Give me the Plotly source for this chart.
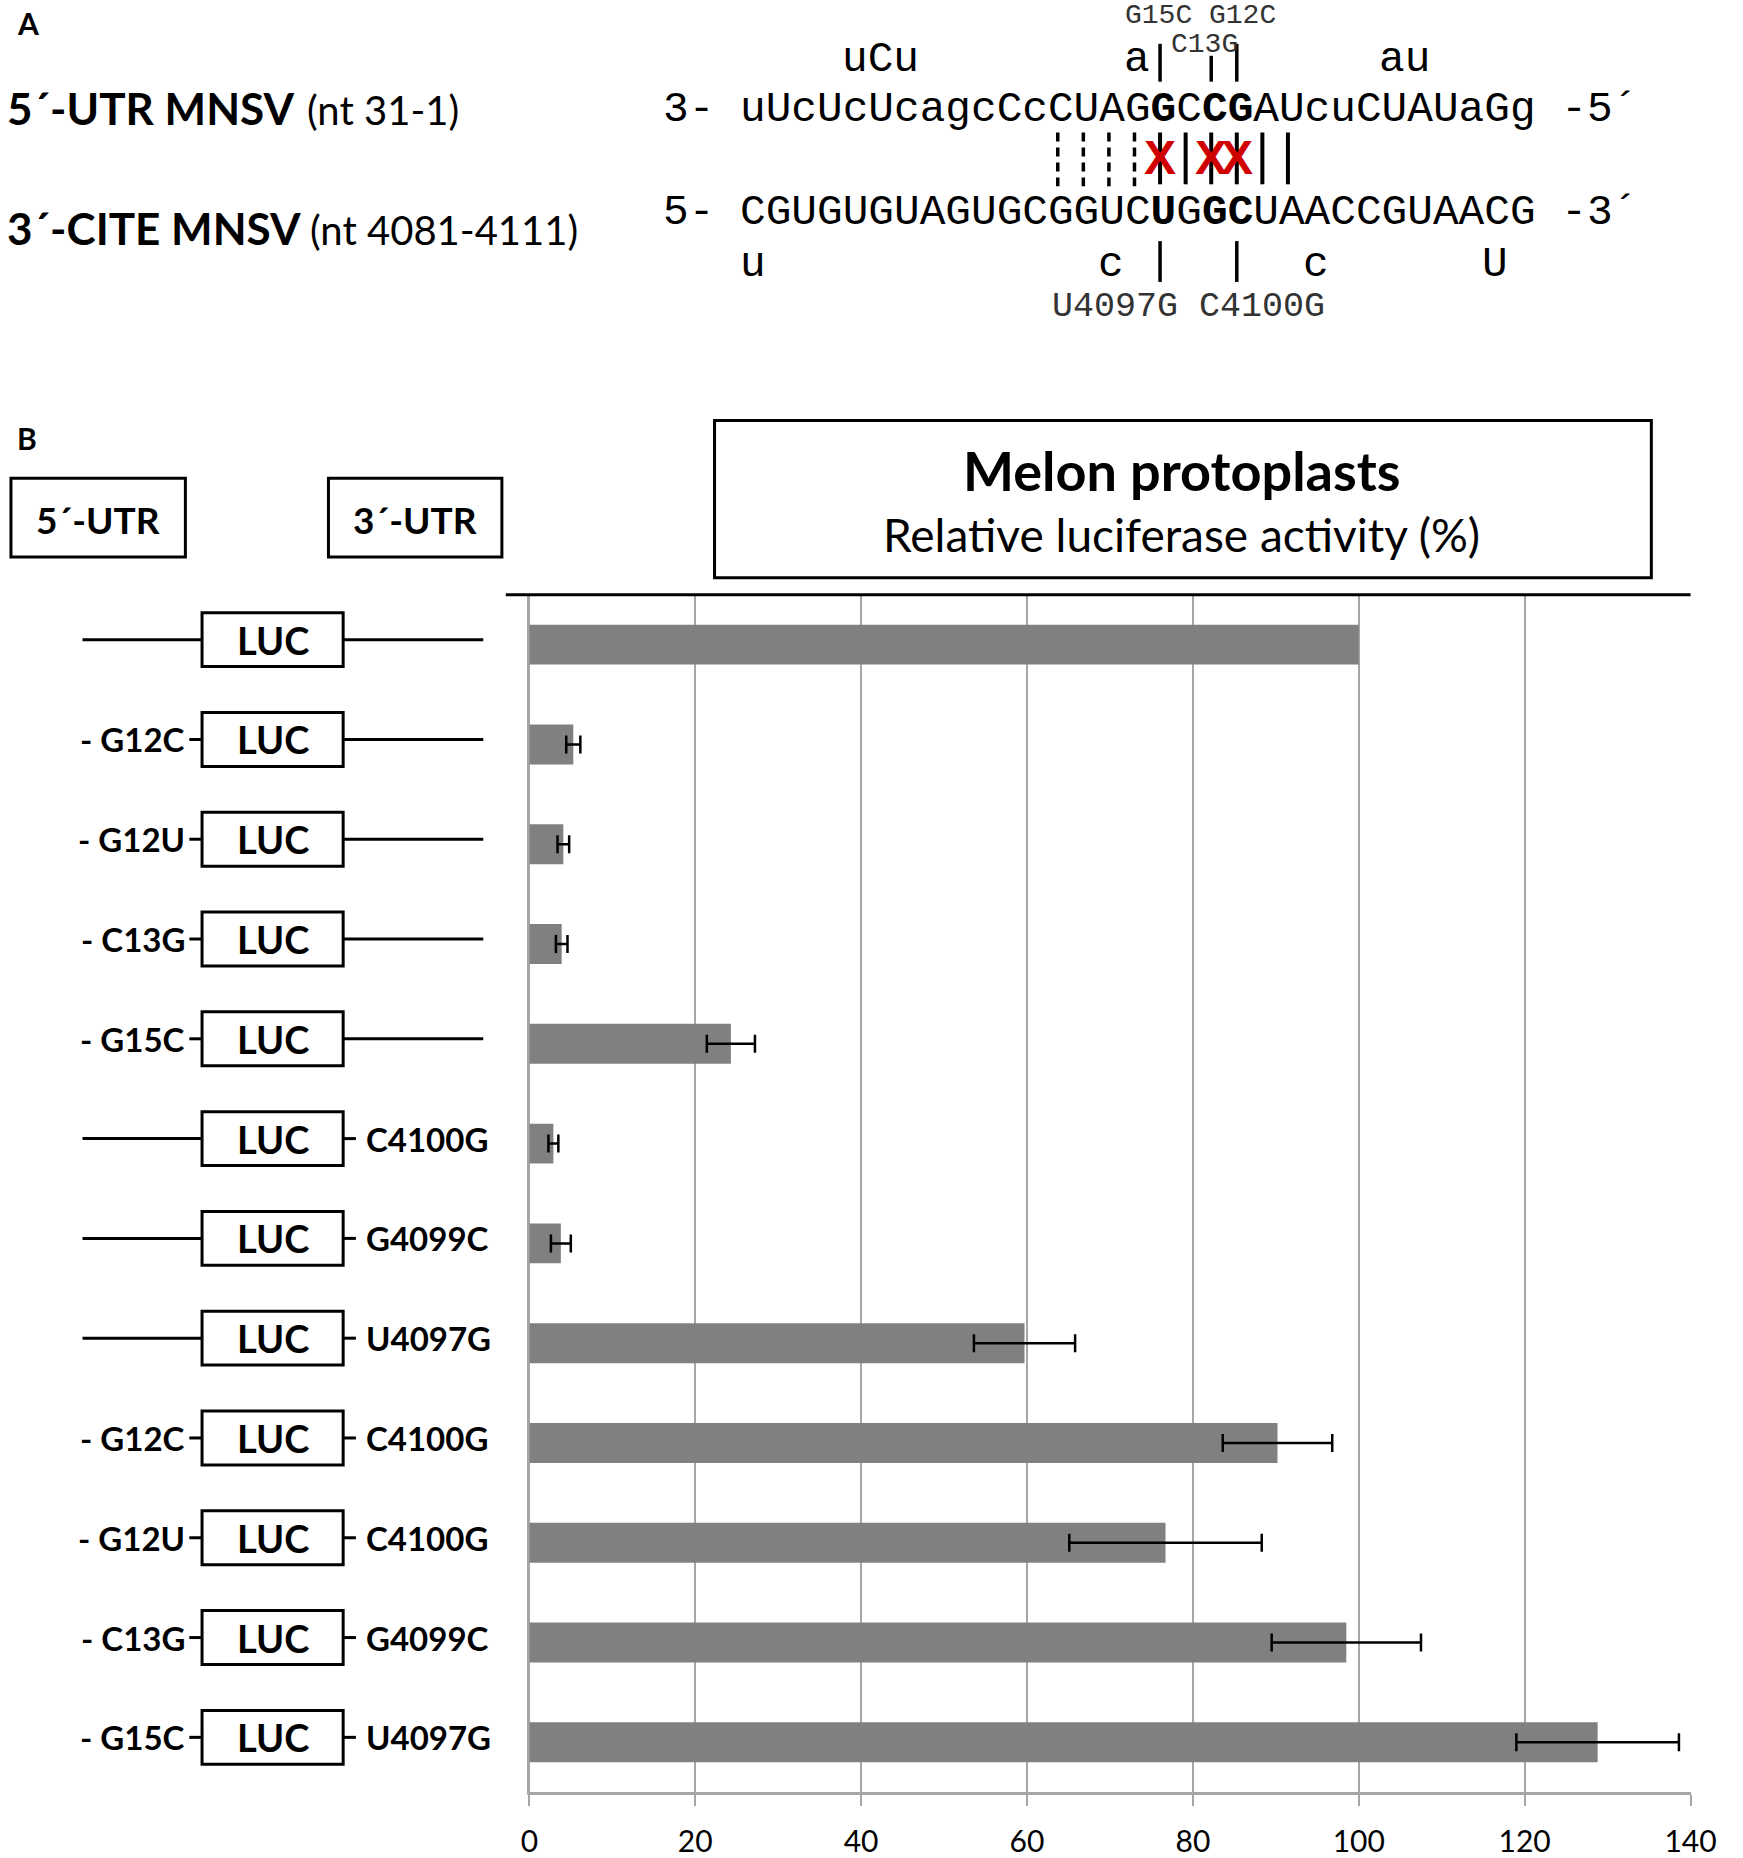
import plotly.graph_objects as go

W, H = 1743, 1858

# ---- data (panel B) ----
constructs = ["wt", "G12C", "G12U", "C13G", "G15C", "C4100G", "G4099C", "U4097G",
              "G12C/C4100G", "G12U/C4100G", "C13G/G4099C", "G15C/U4097G"]
five_mut = ["", "G12C", "G12U", "C13G", "G15C", "", "", "",
            "G12C", "G12U", "C13G", "G15C"]
three_mut = ["", "", "", "", "", "C4100G", "G4099C", "U4097G",
             "C4100G", "C4100G", "G4099C", "U4097G"]
activity = [100, 5.3, 4.1, 3.9, 24.3, 2.9, 3.8, 59.7, 90.2, 76.7, 98.5, 128.8]
sd = [None, 0.85, 0.7, 0.7, 2.9, 0.6, 1.2, 6.1, 6.6, 11.6, 9.0, 9.8]
x_ticks = [0, 20, 40, 60, 80, 100, 120, 140]

# ---- data (panel A) ----
utr5_seq = "uUcUcUcagcCcCUAGGCCGAUcuCUAUaGg"
cite3_seq = "CGUGUGUAGUGCGGUCUGGCUAACCGUAACG"
bold_pos = [16, 18, 19]
utr5_bulges = [(4, "uCu"), (15, "a"), (25, "au")]
cite3_bulges = [(0, "u"), (14, "c"), (22, "c"), (29, "U")]
weak_pairs = [12, 13, 14, 15]
strong_pairs = [16, 17, 18, 19, 20, 21]
broken_pairs = [16, 18, 19]
utr5_marks = [(16, 44), (18, 56), (19, 44)]
cite3_marks = [16, 19]

SANS = "Lato"
MONO = "Courier New, Nimbus Mono PS, FreeMono, Liberation Mono"
GRID = "#A6A6A6"


def px(x):
    return x / W


def py(y):
    return 1 - y / H


fig = go.Figure()
rows = list(range(len(constructs)))
fig.add_trace(go.Bar(
    x=activity, y=rows, orientation="h", width=0.4,
    marker=dict(color="#808080", line=dict(width=0)),
    hovertext=constructs, hoverinfo="text+x",
))
err_rows = [i for i in rows if sd[i] is not None]
fig.add_trace(go.Scatter(
    x=[activity[i] for i in err_rows], y=err_rows, mode="markers",
    marker=dict(size=1, opacity=0),
    error_x=dict(type="data", array=[sd[i] for i in err_rows],
                 color="black", thickness=2.5, width=9),
    hoverinfo="skip",
))

shapes = []
ann = []

# ---------- panel A ----------
SEQ_X0 = 744
CHAR_W = 26.1
MONO_SIZE = CHAR_W / 0.61


def cx(i):
    return SEQ_X0 + CHAR_W * (i + 0.5)


def markup(seq):
    return "".join(f"<b>{c}</b>" if i in bold_pos else c for i, c in enumerate(seq))


def mono(text, x, y, size=MONO_SIZE, anchor="left", color="black"):
    ann.append(dict(text=text, x=px(x), y=py(y), xref="paper", yref="paper",
                    xanchor=anchor, yanchor="middle", showarrow=False,
                    font=dict(family=MONO, size=size, color=color)))


start = SEQ_X0 - 3 * CHAR_W
mono("3-\u00a0" + markup(utr5_seq) + "\u00a0-5\u00b4", start, 110)
mono("5-\u00a0" + markup(cite3_seq) + "\u00a0-3\u00b4", start, 213)
for i, s in utr5_bulges:
    mono(s, cx(i) - CHAR_W / 2, 60)
for i, s in cite3_bulges:
    mono(s, cx(i) - CHAR_W / 2, 265)

for i in weak_pairs:
    shapes.append(dict(type="line", xref="paper", yref="paper",
                       x0=px(cx(i)), x1=px(cx(i)), y0=py(133), y1=py(187),
                       line=dict(color="black", width=3.5, dash="9px,6px")))
for i in strong_pairs:
    shapes.append(dict(type="line", xref="paper", yref="paper",
                       x0=px(cx(i)), x1=px(cx(i)), y0=py(133), y1=py(185),
                       line=dict(color="black", width=4)))
for i in broken_pairs:
    ann.append(dict(text="X", x=px(cx(i)), y=py(158), xref="paper", yref="paper",
                    xanchor="center", yanchor="middle", showarrow=False,
                    font=dict(family="Liberation Sans Narrow, Liberation Sans", size=48,
                              color="#D00000", weight=700)))
for i, top in utr5_marks:
    shapes.append(dict(type="line", xref="paper", yref="paper",
                       x0=px(cx(i)), x1=px(cx(i)), y0=py(top), y1=py(82),
                       line=dict(color="black", width=3.5)))
for i in cite3_marks:
    shapes.append(dict(type="line", xref="paper", yref="paper",
                       x0=px(cx(i)), x1=px(cx(i)), y0=py(242), y1=py(283),
                       line=dict(color="black", width=3.5)))

mono("G15C\u00a0G12C", 1216, 16, size=28, anchor="center", color="#333333")
mono("C13G", 1220, 45, size=28, anchor="center", color="#333333")
mono("U4097G\u00a0C4100G", 1204, 308, size=35, anchor="center", color="#333333")


def sans(text, x, y, size, anchor="left", bold=False):
    ann.append(dict(text=f"<b>{text}</b>" if bold else text, x=px(x), y=py(y),
                    xref="paper", yref="paper", xanchor=anchor, yanchor="middle",
                    showarrow=False, font=dict(family=SANS, size=size, color="black")))


sans("A", 6, 23, 30, bold=True)
sans("5\u00b4-UTR MNSV", -4, 108, 44, bold=True)
sans("(nt 31-1)", 302, 110, 40)
sans("3\u00b4-CITE MNSV", -4, 229, 44, bold=True)
sans("(nt 4081-4111)", 305, 231, 40)

# ---------- panel B headers ----------
sans("B", 6, 440, 30, bold=True)
for x0, x1, label in [(2, 180, "5\u00b4-UTR"), (326, 503, "3\u00b4-UTR")]:
    shapes.append(dict(type="rect", xref="paper", yref="paper",
                       x0=px(x0), x1=px(x1), y0=py(480), y1=py(559),
                       line=dict(color="black", width=3)))
    sans(label, (x0 + x1) / 2, 521, 37, anchor="center", bold=True)

shapes.append(dict(type="rect", xref="paper", yref="paper",
                   x0=px(720), x1=px(1676), y0=py(422), y1=py(580),
                   line=dict(color="black", width=3)))
sans("Melon protoplasts", 1197, 472, 54, anchor="center", bold=True)
sans("Relative luciferase activity (%)", 1197, 537, 46, anchor="center")

# black rule above the plot
shapes.append(dict(type="line", xref="paper", yref="y domain",
                   x0=px(507), x1=px(1716), y0=1, y1=1,
                   line=dict(color="black", width=3)))

# ---------- construct diagrams ----------
BOX_L, BOX_R = 197, 341
for i in rows:
    yc = i - 0.05
    shapes.append(dict(type="rect", xref="paper", yref="y",
                       x0=px(BOX_L), x1=px(BOX_R), y0=yc - 0.27, y1=yc + 0.27,
                       line=dict(color="black", width=3), fillcolor="white"))
    ann.append(dict(text="<b>LUC</b>", x=px((BOX_L + BOX_R) / 2), y=yc, xref="paper",
                    yref="y", xanchor="center", yanchor="middle", showarrow=False,
                    font=dict(family=SANS, size=38, color="black")))
    if five_mut[i]:
        shapes.append(dict(type="line", xref="paper", yref="y",
                           x0=px(184), x1=px(BOX_L), y0=yc, y1=yc,
                           line=dict(color="black", width=3)))
        ann.append(dict(text="<b>- " + five_mut[i] + "</b>", x=px(182), y=yc,
                        xref="paper", yref="y", xanchor="right", yanchor="middle",
                        showarrow=False, font=dict(family=SANS, size=33, color="black")))
    else:
        shapes.append(dict(type="line", xref="paper", yref="y",
                           x0=px(75), x1=px(BOX_L), y0=yc, y1=yc,
                           line=dict(color="black", width=3)))
    if three_mut[i]:
        shapes.append(dict(type="line", xref="paper", yref="y",
                           x0=px(BOX_R), x1=px(354), y0=yc, y1=yc,
                           line=dict(color="black", width=3)))
        ann.append(dict(text="<b>" + three_mut[i] + "</b>", x=px(362), y=yc,
                        xref="paper", yref="y", xanchor="left", yanchor="middle",
                        showarrow=False, font=dict(family=SANS, size=33, color="black")))
    else:
        shapes.append(dict(type="line", xref="paper", yref="y",
                           x0=px(BOX_R), x1=px(484), y0=yc, y1=yc,
                           line=dict(color="black", width=3)))

fig.update_layout(
    width=W, height=H, autosize=False,
    margin=dict(l=0, r=0, t=0, b=0),
    paper_bgcolor="white", plot_bgcolor="white",
    showlegend=False, bargap=0.6,
    shapes=shapes, annotations=ann,
    xaxis=dict(domain=[px(531), px(1716)], range=[0, 140], tickvals=x_ticks,
               showgrid=True, gridcolor=GRID, gridwidth=2,
               zeroline=True, zerolinecolor=GRID, zerolinewidth=2,
               showline=True, linecolor=GRID, linewidth=3,
               ticks="outside", ticklen=11, tickcolor=GRID, tickwidth=2,
               ticklabelstandoff=10,
               tickfont=dict(family=SANS, size=30, color="black")),
    yaxis=dict(domain=[py(1799), py(597)], range=[len(rows) - 0.5, -0.5],
               showticklabels=False, showgrid=False, zeroline=False,
               showline=True, linecolor=GRID, linewidth=2, ticks=""),
)

fig.write_html(
    "out.html",
    config={"displayModeBar": False, "responsive": False},
    post_script="document.body.style.margin='0';"
                "document.body.style.overflow='hidden';"
                "var d=document.getElementById('{plot_id}');"
                "d.style.position='fixed';d.style.left='0px';d.style.top='0px';",
)
